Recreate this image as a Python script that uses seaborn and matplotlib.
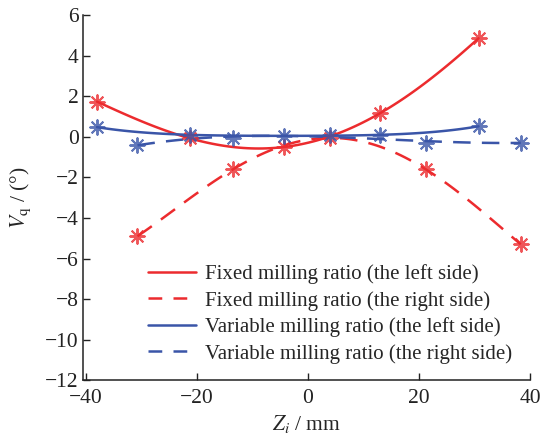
import matplotlib
matplotlib.use("Agg")
import matplotlib.pyplot as plt
from matplotlib.lines import Line2D
import numpy as np
import pandas as pd
import seaborn as sns

# Data
z_left = [-38.0, -21.3, -4.3, 13.0, 30.7]
z_right = [-30.7, -13.5, 3.9, 21.2, 38.3]
fixed_left = [1.74, -0.07, -0.50, 1.17, 4.86]
fixed_right = [-4.90, -1.60, -0.05, -1.60, -5.30]
variable_left = [0.48, 0.10, 0.05, 0.10, 0.52]
variable_right = [-0.40, -0.05, 0.10, -0.28, -0.28]

labels = [
    "Fixed milling ratio (the left side)",
    "Fixed milling ratio (the right side)",
    "Variable milling ratio (the left side)",
    "Variable milling ratio (the right side)",
]
x_ticks = [-40, -20, 0, 20, 40]
y_ticks = [-12, -10, -8, -6, -4, -2, 0, 2, 4, 6]

RED = "#ec2b2e"
BLUE = "#3a55a8"

sns.set_theme(style="white")
plt.rcParams["font.family"] = ["Liberation Serif", "DejaVu Serif"]
plt.rcParams["mathtext.fontset"] = "stix"

fig = plt.figure(figsize=(5.41, 4.34), dpi=100)
ax = fig.add_axes([0.153, 0.124, 0.827, 0.841])

series = [
    (z_left, fixed_left, RED, "-", 4),
    (z_right, fixed_right, RED, "--", 4),
    (z_left, variable_left, BLUE, "-", 4),
    (z_right, variable_right, BLUE, "--", 3),
]
handles = []
for (xs, ys, col, ls, order), lab in zip(series, labels):
    df = pd.DataFrame({"z": xs, "v": ys})
    lkw = dict(color=col, lw=1.8)
    if ls == "--":
        lkw["dashes"] = (7, 4.5)
    sns.regplot(data=df, x="z", y="v", order=order, ci=None, ax=ax,
                marker=(8, 2, 0), color=col,
                scatter_kws=dict(s=110, linewidths=1.4, color=col, zorder=3),
                line_kws=lkw)
    h = Line2D([], [], color=col, lw=1.8)
    if ls == "--":
        h.set_dashes((5.5, 4.5))
    handles.append(h)

ax.set_xlim(-40.55, 40)
ax.set_ylim(-12, 6)
ax.set_xticks(x_ticks)
ax.set_yticks(y_ticks)
ax.set_xticklabels(["\u2212" + str(-t) if t < 0 else str(t) for t in x_ticks])
ax.set_yticklabels(["\u2212" + str(-t) if t < 0 else str(t) for t in y_ticks])
ax.tick_params(direction="in", length=5, width=1, colors="#222222", labelsize=15.5,
               bottom=True, left=True, pad=3)
ax.tick_params(axis="x", pad=6)
for s in ["top", "right"]:
    ax.spines[s].set_visible(False)
for s in ["left", "bottom"]:
    ax.spines[s].set_color("#222222")
    ax.spines[s].set_linewidth(1.1)

ax.set_xlabel(r"$Z_i$ / mm", fontsize=15.5)
ax.set_ylabel(r"$V_{\mathrm{q}}$ / (°)", fontsize=15.5)
ax.xaxis.set_label_coords(0.5, -0.09)
ax.yaxis.set_label_coords(-0.112, 0.5)

leg = ax.legend(handles, labels, loc="lower left", bbox_to_anchor=(0.145, 0.045),
                frameon=False, fontsize=15, handlelength=2.3, handletextpad=0.45,
                labelspacing=0.32, borderaxespad=0, borderpad=0)

fig.savefig("out.png", dpi=100)
